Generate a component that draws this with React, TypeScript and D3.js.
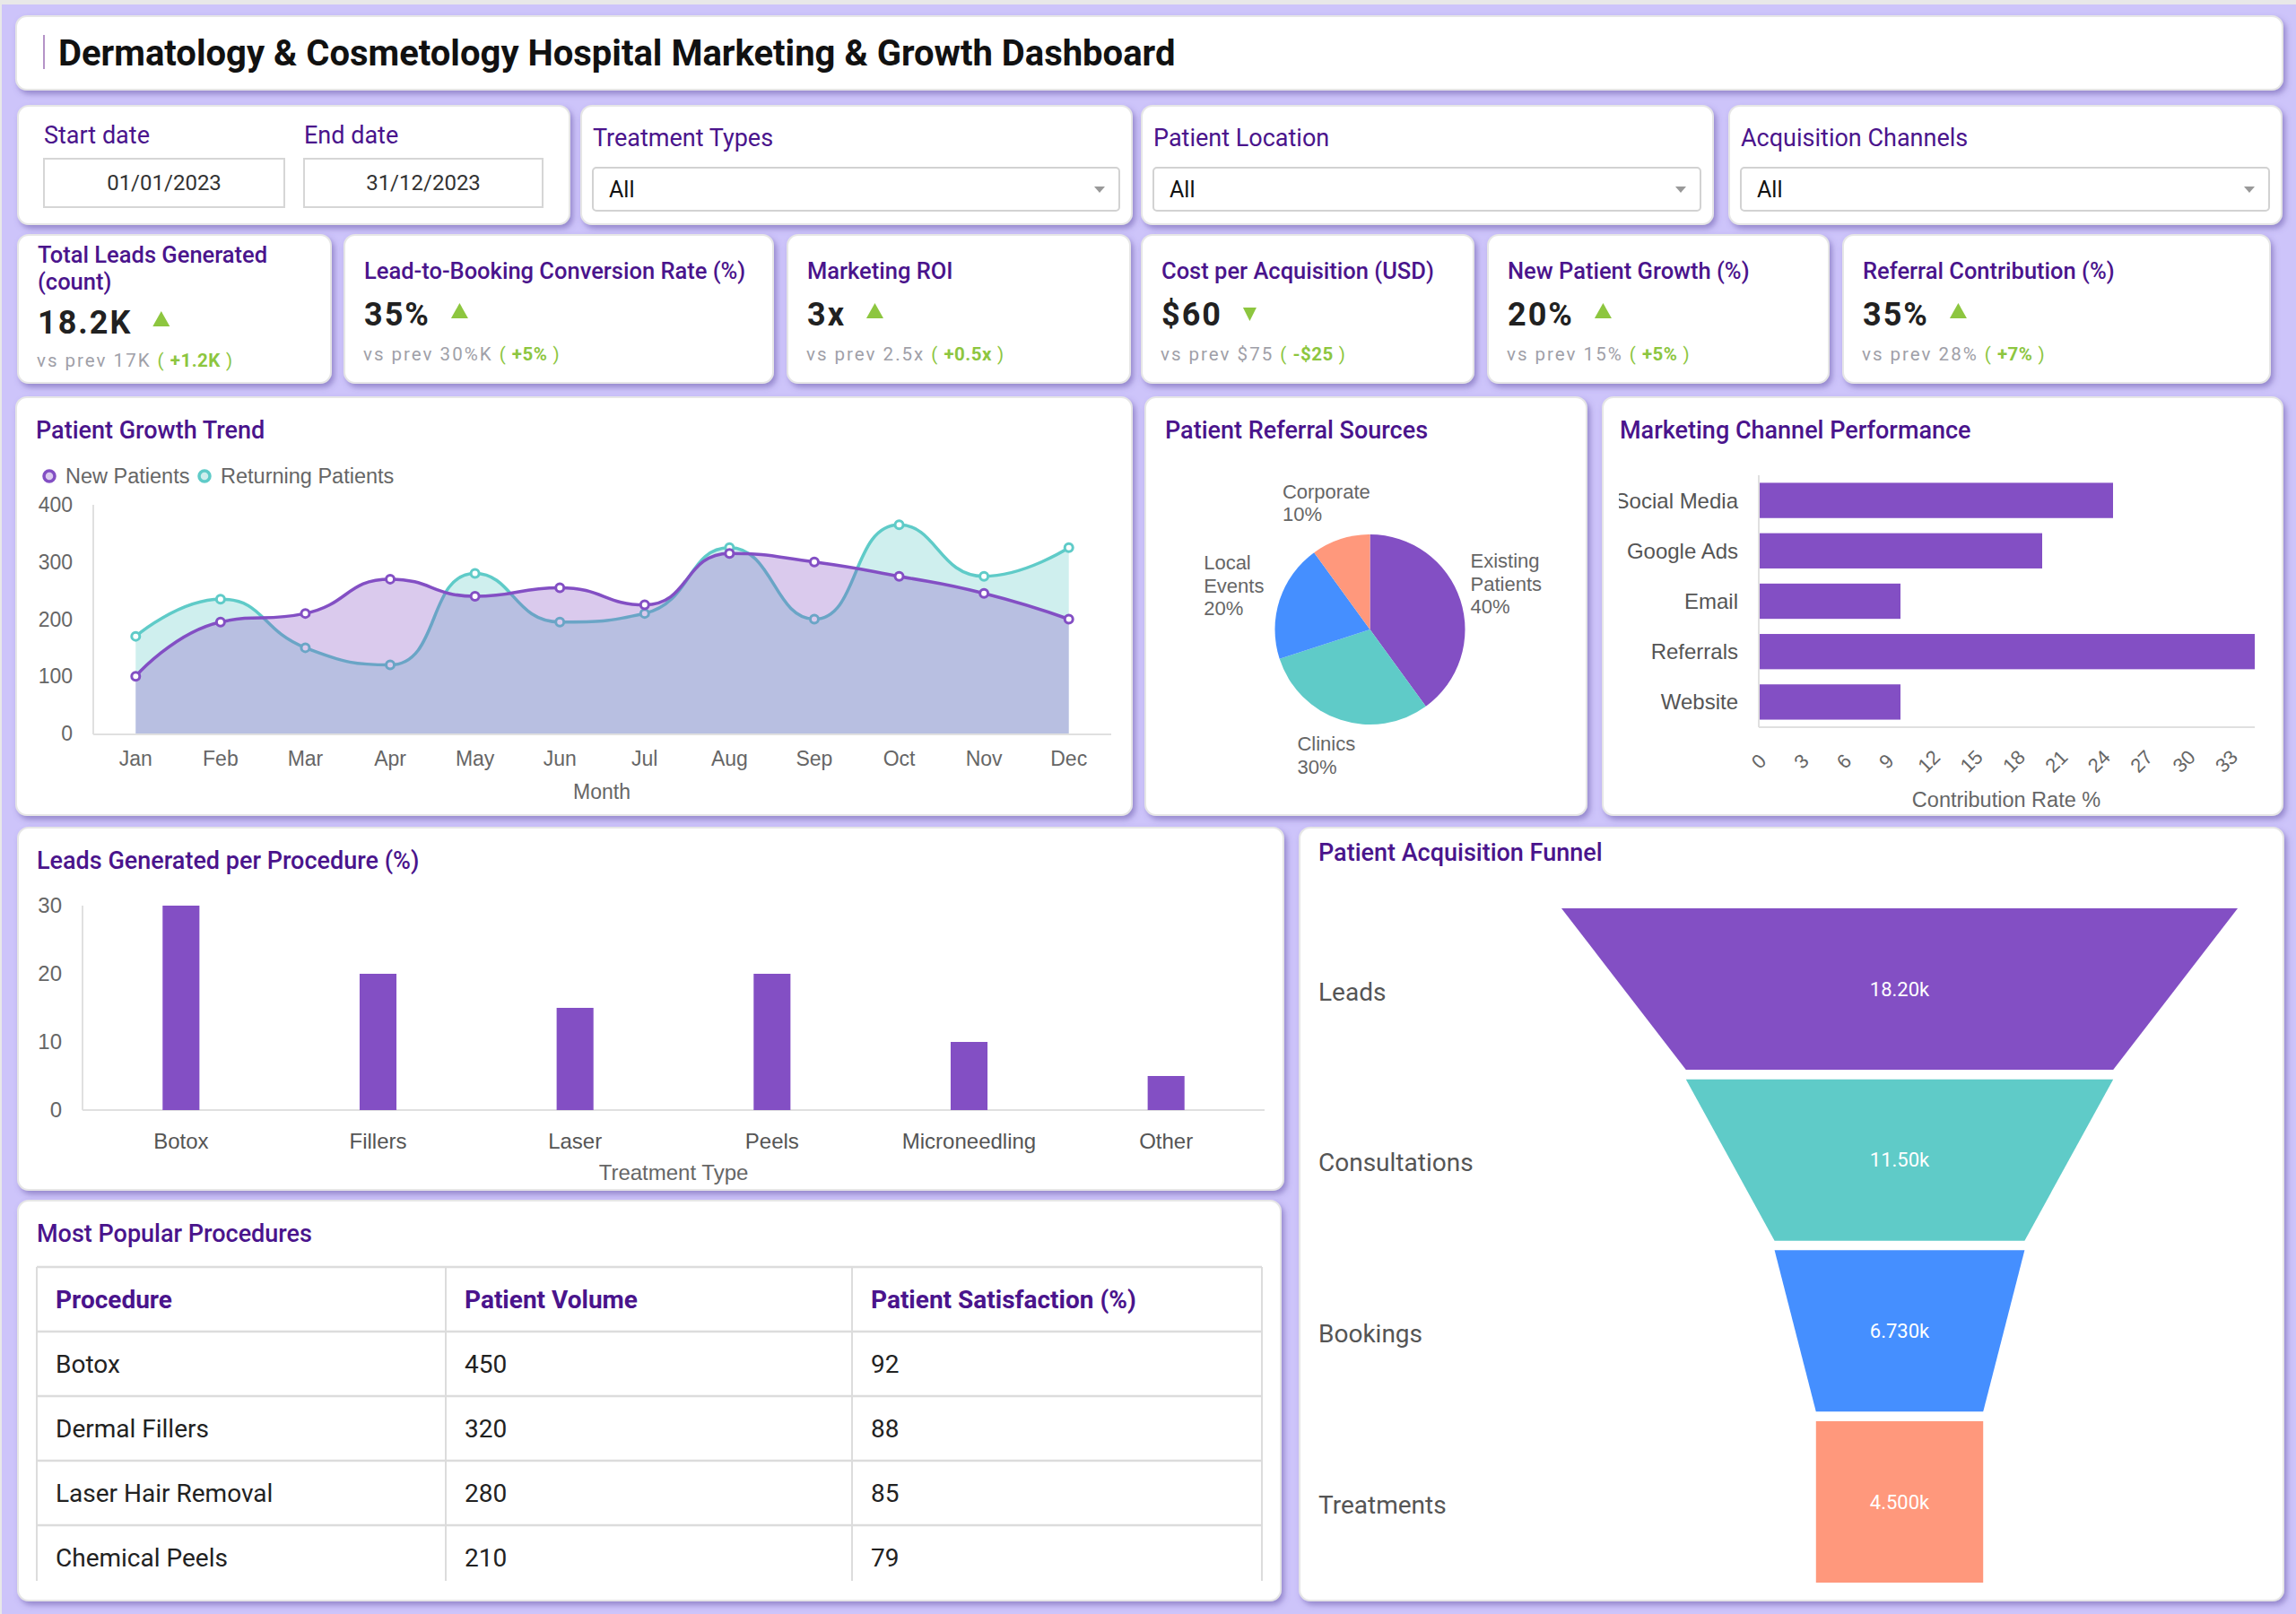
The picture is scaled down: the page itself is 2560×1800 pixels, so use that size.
import React from "react";
import * as d3 from "d3";

// ---- data ----
const dashboardTitle = "Dermatology & Cosmetology Hospital Marketing & Growth Dashboard";
const startDate = "01/01/2023";
const endDate = "31/12/2023";
const filterLabels = ["Treatment Types", "Patient Location", "Acquisition Channels"];
const filterValues = ["All", "All", "All"];

const kpiTitles = [
  ["Total Leads Generated", "(count)"],
  ["Lead-to-Booking Conversion Rate (%)"],
  ["Marketing ROI"],
  ["Cost per Acquisition (USD)"],
  ["New Patient Growth (%)"],
  ["Referral Contribution (%)"],
];
const kpiValues = ["18.2K", "35%", "3x", "$60", "20%", "35%"];
const kpiTrend = ["up", "up", "up", "down", "up", "up"];
const kpiPrev = ["17K", "30%K", "2.5x", "$75", "15%", "28%"];
const kpiDelta = ["+1.2K", "+5%", "+0.5x", "-$25", "+5%", "+7%"];

const months = ["Jan", "Feb", "Mar", "Apr", "May", "Jun", "Jul", "Aug", "Sep", "Oct", "Nov", "Dec"];
const newPatients = [100, 195, 210, 270, 240, 255, 225, 315, 300, 275, 245, 200];
const returningPatients = [170, 235, 150, 120, 280, 195, 210, 325, 200, 365, 275, 325];

const referralSources = ["Existing Patients", "Clinics", "Local Events", "Corporate"];
const referralShares = [40, 30, 20, 10];

const channels = ["Social Media", "Google Ads", "Email", "Referrals", "Website"];
const channelRates = [25, 20, 10, 35, 10];

const procedureTypes = ["Botox", "Fillers", "Laser", "Peels", "Microneedling", "Other"];
const procedureLeads = [30, 20, 15, 20, 10, 5];

const funnelStages = ["Leads", "Consultations", "Bookings", "Treatments"];
const funnelValues = [18200, 11500, 6730, 4500];

const tableHeaders = ["Procedure", "Patient Volume", "Patient Satisfaction (%)"];
const tableProcedures = ["Botox", "Dermal Fillers", "Laser Hair Removal", "Chemical Peels"];
const tableVolumes = [450, 320, 280, 210];
const tableSatisfaction = [92, 88, 85, 79];

// ---- styles ----
const PURPLE = "#834fc4";
const TEAL = "#5fcbc8";
const BLUE = "#458fff";
const SALMON = "#ff987c";
const TITLE_C = "#4a148c";
const GREEN = "#8dc63f";
const AXIS_C = "#666";
const LINE_C = "#e0e0e0";
const SANS = "'Liberation Sans', Arial, sans-serif";
const ROBOTO = "Roboto, sans-serif";

let measureCtx: CanvasRenderingContext2D | null = null;
function textWidth(t: string, font: string) {
  if (!measureCtx) measureCtx = document.createElement("canvas").getContext("2d");
  if (!measureCtx) return t.length * 10;
  measureCtx.font = font;
  return measureCtx.measureText(t).width;
}

// echarts-like smoothing (control points clamped to segment bbox)
function smoothPath(pts: [number, number][], smooth = 0.5, baseY?: number) {
  const p = d3.path();
  let c0x = 0, c0y = 0;
  for (let i = 0; i < pts.length; i++) {
    const [x, y] = pts[i];
    if (i === 0) { p.moveTo(x, y); c0x = x; c0y = y; continue; }
    const [px, py] = pts[i - 1];
    let c1x = x, c1y = y, nx0 = x, ny0 = y;
    if (i < pts.length - 1) {
      const [nx, ny] = pts[i + 1];
      let vx = nx - px, vy = ny - py;
      const lp = Math.hypot(x - px, y - py), ln = Math.hypot(nx - x, ny - y);
      const r = ln / (ln + lp);
      nx0 = x + vx * smooth * r; ny0 = y + vy * smooth * r;
      nx0 = Math.max(Math.min(nx0, Math.max(nx, x)), Math.min(nx, x));
      ny0 = Math.max(Math.min(ny0, Math.max(ny, y)), Math.min(ny, y));
      vx = nx0 - x; vy = ny0 - y;
      c1x = x - vx * lp / ln; c1y = y - vy * lp / ln;
      c1x = Math.max(Math.min(c1x, Math.max(px, x)), Math.min(px, x));
      c1y = Math.max(Math.min(c1y, Math.max(py, y)), Math.min(py, y));
      vx = x - c1x; vy = y - c1y;
      nx0 = x + vx * ln / lp; ny0 = y + vy * ln / lp;
    }
    p.bezierCurveTo(c0x, c0y, c1x, c1y, x, y);
    c0x = nx0; c0y = ny0;
  }
  if (baseY !== undefined) {
    p.lineTo(pts[pts.length - 1][0], baseY);
    p.lineTo(pts[0][0], baseY);
    p.closePath();
  }
  return p.toString();
}

const Card = ({ x, y, w, h }: { x: number; y: number; w: number; h: number }) => (
  <rect x={x} y={y} width={w} height={h} rx={12} fill="#fff" stroke="#e6e6e6" strokeWidth={2} filter="url(#shadow)" />
);

const CardTitle = ({ x, y, text }: { x: number; y: number; text: string }) => (
  <text x={x} y={y} fontFamily={ROBOTO} fontWeight={500} fontSize={27} fill={TITLE_C}>{text}</text>
);

function Filters() {
  const cards = [
    { x: 648, w: 614 },
    { x: 1273, w: 637 },
    { x: 1928, w: 616 },
  ];
  return (
    <g>
      <Card x={20} y={118} w={615} h={132} />
      {["Start date", "End date"].map((l, i) => {
        const bx = i === 0 ? 49 : 339;
        const bw = i === 0 ? 268 : 266;
        return (
          <g key={l}>
            <text x={bx} y={160} fontFamily={ROBOTO} fontSize={27} fill={TITLE_C}>{l}</text>
            <rect x={bx} y={177} width={bw} height={54} fill="#fff" stroke="#d6d6d6" strokeWidth={2} />
            <text x={bx + bw / 2} y={212} textAnchor="middle" fontFamily={ROBOTO} fontSize={24} fill="#333">
              {i === 0 ? startDate : endDate}
            </text>
          </g>
        );
      })}
      {cards.map((c, i) => {
        const sx = c.x + 13, sw = c.w - 27;
        return (
          <g key={i}>
            <Card x={c.x} y={118} w={c.w} h={132} />
            <text x={sx} y={163} fontFamily={ROBOTO} fontSize={27} fill={TITLE_C}>{filterLabels[i]}</text>
            <rect x={sx} y={187} width={sw} height={48} rx={4} fill="#fff" stroke="#d2d2d2" strokeWidth={2} />
            <text x={sx + 18} y={220} fontFamily={ROBOTO} fontSize={25} fill="#111">{filterValues[i]}</text>
            <path d={`M${sx + sw - 28},${208}l12,0l-6,7z`} fill="#999" />
          </g>
        );
      })}
    </g>
  );
}

function Kpis() {
  const xs = [20, 384, 878, 1273, 1659, 2055];
  const ws = [349, 478, 382, 370, 380, 476];
  return (
    <g>
      {kpiValues.map((v, i) => {
        const x = xs[i] + 22;
        const two = kpiTitles[i].length > 1;
        const valY = two ? 372 : 363;
        const prevY = two ? 409 : 402;
        const vw = textWidth(v, `bold 36px Roboto`) + v.length * 2;
        const tx = x + vw + 23;
        const tri = kpiTrend[i] === "up"
          ? `M${tx},${valY - 8}L${tx + 19},${valY - 8}L${tx + 9.5},${valY - 25}Z`
          : `M${tx},${valY - 20}L${tx + 15},${valY - 20}L${tx + 7.5},${valY - 5}Z`;
        return (
          <g key={i}>
            <Card x={xs[i]} y={262} w={ws[i]} h={165} />
            {kpiTitles[i].map((t, j) => (
              <text key={j} x={x} y={two ? 293 + j * 30 : 311} fontFamily={ROBOTO} fontWeight={500} fontSize={25.5} fill={TITLE_C}>{t}</text>
            ))}
            <text x={x} y={valY} fontFamily={ROBOTO} fontWeight={700} fontSize={36} letterSpacing={2} fill="#212121">{v}</text>
            <path d={tri} fill={GREEN} />
            <text x={x - 1} y={prevY} fontFamily={ROBOTO} fontSize={20.5} fill="#a0a0a8">
              <tspan letterSpacing={2}>{`vs prev ${kpiPrev[i]} `}</tspan>
              <tspan fill={GREEN} letterSpacing={1}>{"( "}</tspan>
              <tspan fill={GREEN} fontWeight={700} letterSpacing={0.5}>{kpiDelta[i]}</tspan>
              <tspan fill={GREEN} letterSpacing={1}>{" )"}</tspan>
            </text>
          </g>
        );
      })}
    </g>
  );
}

function GrowthTrend() {
  const x = d3.scaleBand().domain(months).range([104, 1239]);
  const y = d3.scaleLinear().domain([0, 400]).range([818, 563]);
  const cx = (m: string) => (x(m) ?? 0) + x.bandwidth() / 2;
  const series = [
    { name: "Returning Patients", data: returningPatients, color: TEAL },
    { name: "New Patients", data: newPatients, color: PURPLE },
  ];
  const legend = [
    { name: "New Patients", color: PURPLE, fill: "#dccbf0", x: 55 },
    { name: "Returning Patients", color: TEAL, fill: "#cdeeed", x: 228 },
  ];
  return (
    <g>
      <Card x={18} y={443} w={1244} h={466} />
      <CardTitle x={40} y={489} text="Patient Growth Trend" />
      {legend.map((l) => (
        <g key={l.name}>
          <circle cx={l.x} cy={531} r={6} fill={l.fill} stroke={l.color} strokeWidth={3.5} />
          <text x={l.x + 18} y={539} fontFamily={SANS} fontSize={23.5} fill={AXIS_C}>{l.name}</text>
        </g>
      ))}
      <line x1={104} x2={104} y1={563} y2={819} stroke={LINE_C} strokeWidth={2} />
      <line x1={104} x2={1239} y1={819} y2={819} stroke={LINE_C} strokeWidth={2} />
      {y.ticks(4).map((t) => (
        <text key={t} x={81} y={y(t)} dy="0.35em" textAnchor="end" fontFamily={SANS} fontSize={23} fill={AXIS_C}>{t}</text>
      ))}
      {months.map((m) => (
        <text key={m} x={cx(m)} y={854} textAnchor="middle" fontFamily={SANS} fontSize={23} fill={AXIS_C}>{m}</text>
      ))}
      <text x={671} y={891} textAnchor="middle" fontFamily={SANS} fontSize={23} fill={AXIS_C}>Month</text>
      {series.map((s) => {
        const pts = s.data.map((v, i) => [cx(months[i]), y(v)] as [number, number]);
        return (
          <g key={s.name}>
            <path d={smoothPath(pts, 0.5, y(0))} fill={s.color} fillOpacity={0.3} />
            <path d={smoothPath(pts, 0.5)} fill="none" stroke={s.color} strokeWidth={3.5} />
            {pts.map((p, i) => (
              <circle key={i} cx={p[0]} cy={p[1]} r={4.5} fill="#fff" stroke={s.color} strokeWidth={3} />
            ))}
          </g>
        );
      })}
    </g>
  );
}

function ReferralPie() {
  const cx = 1527.5, cy = 702, r = 106;
  const colors = [PURPLE, TEAL, BLUE, SALMON];
  const arcs = d3.pie<number>().sort(null)(referralShares);
  const arc = d3.arc<d3.PieArcDatum<number>>().innerRadius(0).outerRadius(r);
  const font = `22px ${SANS}`;
  const lh = 25.5;
  return (
    <g>
      <Card x={1277} y={443} w={492} h={466} />
      <CardTitle x={1299} y={489} text="Patient Referral Sources" />
      <g transform={`translate(${cx},${cy})`}>
        {arcs.map((a, i) => (
          <path key={i} d={arc(a) ?? ""} fill={colors[i]} />
        ))}
      </g>
      {arcs.map((a, i) => {
        const lines = [...referralSources[i].split(" "), `${referralShares[i]}%`];
        const mid = (a.startAngle + a.endAngle) / 2;
        const dx = Math.sin(mid), dy = -Math.cos(mid);
        const bw = Math.max(...lines.map((l) => textWidth(l, font)));
        const bh = lines.length * lh;
        const t = Math.min(bw / 2 / Math.max(Math.abs(dx), 1e-6), bh / 2 / Math.max(Math.abs(dy), 1e-6));
        const bx = cx + dx * (121 + t) - bw / 2 - 3;
        const by = cy + dy * (121 + t) - bh / 2;
        return (
          <text key={i} fontFamily={SANS} fontSize={22} fill={AXIS_C}>
            {lines.map((l, j) => (
              <tspan key={j} x={bx} y={by + 20 + j * lh}>{l}</tspan>
            ))}
          </text>
        );
      })}
    </g>
  );
}

function ChannelBars() {
  const x = d3.scaleLinear().domain([0, 35]).range([1961, 2514]);
  const y = d3.scaleBand().domain(channels).range([530, 811]).paddingInner(0.3).paddingOuter(0.15);
  const ticks = d3.range(0, 34, 3);
  return (
    <g>
      <Card x={1787} y={443} w={758} h={466} />
      <CardTitle x={1806} y={489} text="Marketing Channel Performance" />
      <defs>
        <clipPath id="chanClip">
          <rect x={1805} y={500} width={740} height={420} />
        </clipPath>
      </defs>
      <g clipPath="url(#chanClip)">
        {channels.map((c, i) => (
          <g key={c}>
            <rect x={x(0)} y={y(c)} width={x(channelRates[i]) - x(0)} height={y.bandwidth()} fill={PURPLE} />
            <text x={1938} y={(y(c) ?? 0) + y.bandwidth() / 2} dy="0.35em" textAnchor="end" fontFamily={SANS} fontSize={24} fill="#555">{c}</text>
          </g>
        ))}
      </g>
      <line x1={1961} x2={1961} y1={530} y2={811} stroke={LINE_C} strokeWidth={2} />
      <line x1={1961} x2={2514} y1={811} y2={811} stroke={LINE_C} strokeWidth={2} />
      {ticks.map((t) => (
        <text key={t} transform={`translate(${x(t)},849) rotate(-45)`} textAnchor="middle" dy="0.35em" fontFamily={SANS} fontSize={22} fill={AXIS_C}>{t}</text>
      ))}
      <text x={2237} y={900} textAnchor="middle" fontFamily={SANS} fontSize={23.5} fill={AXIS_C}>Contribution Rate %</text>
    </g>
  );
}

function LeadsBars() {
  const x = d3.scaleBand().domain(procedureTypes).range([92, 1410]).paddingInner(0.813).paddingOuter(0.4065);
  const y = d3.scaleLinear().domain([0, 30]).range([1238, 1010]);
  return (
    <g>
      <Card x={20} y={923} w={1411} h={404} />
      <CardTitle x={41} y={969} text="Leads Generated per Procedure (%)" />
      <line x1={92} x2={92} y1={1010} y2={1238} stroke={LINE_C} strokeWidth={2} />
      <line x1={92} x2={1410} y1={1238} y2={1238} stroke={LINE_C} strokeWidth={2} />
      {y.ticks(3).map((t) => (
        <text key={t} x={69} y={y(t)} dy="0.35em" textAnchor="end" fontFamily={SANS} fontSize={24} fill={AXIS_C}>{t}</text>
      ))}
      {procedureTypes.map((p, i) => (
        <g key={p}>
          <rect x={x(p)} y={y(procedureLeads[i])} width={x.bandwidth()} height={y(0) - y(procedureLeads[i])} fill={PURPLE} />
          <text x={(x(p) ?? 0) + x.bandwidth() / 2} y={1281} textAnchor="middle" fontFamily={SANS} fontSize={24} fill="#555">{p}</text>
        </g>
      ))}
      <text x={751} y={1316} textAnchor="middle" fontFamily={SANS} fontSize={24} fill={AXIS_C}>Treatment Type</text>
    </g>
  );
}

function ProceduresTable() {
  const left = 41, right = 1407;
  const cols = [41, 497, 950];
  const rows = d3.scaleBand().domain(["header", ...tableProcedures]).range([1413, 1413 + 72 * 5]);
  const cells = tableProcedures.map((p, i) => [p, String(tableVolumes[i]), String(tableSatisfaction[i])]);
  return (
    <g>
      <Card x={20} y={1339} w={1408} h={446} />
      <CardTitle x={41} y={1385} text="Most Popular Procedures" />
      <defs>
        <clipPath id="tableClip">
          <rect x={30} y={1400} width={1390} height={363} />
        </clipPath>
      </defs>
      <g clipPath="url(#tableClip)">
        {rows.domain().map((r) => (
          <line key={r} x1={left} x2={right} y1={rows(r)} y2={rows(r)} stroke="#dcdcdc" strokeWidth={2.5} />
        ))}
        {[...cols, right].map((c) => (
          <line key={c} x1={c} x2={c} y1={1413} y2={1800} stroke="#dcdcdc" strokeWidth={2} />
        ))}
        {tableHeaders.map((h, j) => (
          <text key={h} x={cols[j] + 21} y={(rows("header") ?? 0) + 36} dy="0.35em" fontFamily={ROBOTO} fontWeight={700} fontSize={28} fill={TITLE_C}>{h}</text>
        ))}
        {cells.map((row, i) => row.map((c, j) => (
          <text key={`${i}-${j}`} x={cols[j] + 21} y={(rows(tableProcedures[i]) ?? 0) + 36} dy="0.35em" fontFamily={ROBOTO} fontSize={28} fill="#222">{c}</text>
        )))}
      </g>
    </g>
  );
}

function Funnel() {
  const cx = 2118;
  const w = d3.scaleLinear().domain([0, d3.max(funnelValues) ?? 0]).range([0, 754]);
  const y = d3.scaleBand().domain(funnelStages).range([1013, 1765]).paddingInner(0.056);
  const colors = [PURPLE, TEAL, BLUE, SALMON];
  const fmt = d3.format(".4s");
  return (
    <g>
      <Card x={1449} y={923} w={1097} h={862} />
      <CardTitle x={1470} y={960} text="Patient Acquisition Funnel" />
      {funnelStages.map((s, i) => {
        const top = y(s) ?? 0, bot = top + y.bandwidth();
        const wt = w(funnelValues[i]);
        const wb = w(i < funnelValues.length - 1 ? funnelValues[i + 1] : funnelValues[i]);
        const d = `M${cx - wt / 2},${top}L${cx + wt / 2},${top}L${cx + wb / 2},${bot}L${cx - wb / 2},${bot}Z`;
        const mid = (top + bot) / 2;
        return (
          <g key={s}>
            <path d={d} fill={colors[i]} />
            <text x={cx} y={mid} dy="0.35em" textAnchor="middle" fontFamily={ROBOTO} fontSize={22} fill="#fff">{fmt(funnelValues[i])}</text>
            <text x={1470} y={mid + 3} dy="0.35em" fontFamily={ROBOTO} fontSize={28} fill="#555">{s}</text>
          </g>
        );
      })}
    </g>
  );
}

export default function App() {
  return (
    <div style={{ position: "absolute", left: 0, top: 0 }}>
      <svg width={2560} height={1800} style={{ display: "block" }}>
        <defs>
          <filter id="shadow" x="-5%" y="-10%" width="112%" height="130%">
            <feDropShadow dx={3} dy={4} stdDeviation={3} floodColor="#5b4aa0" floodOpacity={0.5} />
          </filter>
        </defs>
        <rect x={0} y={0} width={2560} height={1800} fill="#e8e8e8" />
        <rect x={2} y={5} width={2558} height={1795} fill="#cdc4fa" />
        <Card x={18} y={18} w={2527} h={82} />
        <line x1={49} x2={49} y1={39} y2={77} stroke="#9c6fb5" strokeWidth={1.5} />
        <text x={65} y={73} fontFamily={ROBOTO} fontWeight={700} fontSize={40} fill="#111">{dashboardTitle}</text>
        <Filters />
        <Kpis />
        <GrowthTrend />
        <ReferralPie />
        <ChannelBars />
        <LeadsBars />
        <ProceduresTable />
        <Funnel />
      </svg>
    </div>
  );
}
